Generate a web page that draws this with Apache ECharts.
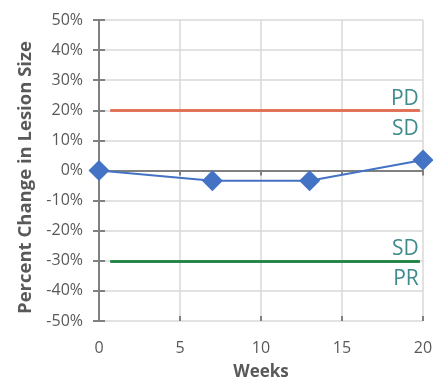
<!DOCTYPE html>
<html>
<head>
<meta charset="utf-8">
<script src="https://cdn.jsdelivr.net/npm/echarts@6/dist/echarts.min.js"></script>
<style>
  html, body { margin: 0; padding: 0; background: #ffffff; }
  #chart { width: 433px; height: 380px; }
</style>
</head>
<body>
<div id="chart"></div>
<script>
// Lesion size over time
const weeks = [0, 7, 13, 20];
const lesionChange = [0, -3.4, -3.4, 3.5];

// Response thresholds (RECIST-style)
const progressionLevel = 20;
const responseLevel = -30;
const thresholdSpan = [0.7, 19.8];
const progressionLabels = ['PD', 'SD'];
const responseLabels = ['SD', 'PR'];

const FONT = 'Open Sans';
const TEXT_GREY = '#595959';
const AXIS_GREY = '#808080';
const GRID_GREY = '#d9d9d9';
const ZONE_TEAL = '#3e8a8c';

function thresholdMarks(level, labels) {
  const from = { coord: [thresholdSpan[0], level] };
  const to = { coord: [thresholdSpan[1], level] };
  const lbl = (text, pos, pad) => ({
    show: true, formatter: text, position: pos, distance: 1, padding: pad,
    color: ZONE_TEAL, fontFamily: FONT, fontSize: 21
  });
  return [
    [Object.assign({}, from, { label: lbl(labels[0], 'insideEndTop', [0, 0, 0, 0]) }), to],
    [Object.assign({}, from, { label: lbl(labels[1], 'insideEndBottom', [7, 0, 0, 0]) }), to]
  ];
}

function thresholdSeries(name, level, labels, color) {
  return {
    name: name,
    type: 'line',
    data: [],
    silent: true,
    markLine: {
      silent: true,
      symbol: 'none',
      animation: false,
      lineStyle: { color: color, width: 2.5, type: 'solid' },
      emphasis: { disabled: true },
      data: thresholdMarks(level, labels)
    }
  };
}

const chart = echarts.init(document.getElementById('chart'), null, { renderer: 'canvas' });

chart.setOption({
  animation: false,
  textStyle: { fontFamily: FONT },
  grid: { left: 99, right: 10, top: 20, bottom: 59, outerBoundsMode: 'none', containLabel: false },
  xAxis: [
    {
      type: 'value', min: 0, max: 20, interval: 5,
      axisLine: { show: false },
      axisTick: { show: false },
      splitLine: { show: true, lineStyle: { color: GRID_GREY, width: 1.5 } },
      axisLabel: { color: TEXT_GREY, fontSize: 16, margin: 19, fontFamily: FONT },
      name: 'Weeks', nameLocation: 'middle', nameGap: 43,
      nameTextStyle: { color: TEXT_GREY, fontSize: 17, fontWeight: 'bold', fontFamily: FONT }
    },
    {
      type: 'value', min: 0, max: 20, interval: 5, position: 'bottom',
      axisLine: { show: true, onZero: true, lineStyle: { color: AXIS_GREY, width: 2 } },
      axisTick: { show: true, length: 5, lineStyle: { color: AXIS_GREY, width: 2 } },
      axisLabel: { show: false },
      splitLine: { show: false }
    },
    {
      type: 'value', min: 0, max: 20, interval: 5, position: 'bottom',
      axisLine: { show: false, onZero: true },
      axisTick: { show: true, inside: true, length: 5, lineStyle: { color: AXIS_GREY, width: 2 } },
      axisLabel: { show: false },
      splitLine: { show: false }
    }
  ],
  yAxis: [
    {
      type: 'value', min: -50, max: 50, interval: 10, position: 'left',
      axisLine: { show: true, lineStyle: { color: AXIS_GREY, width: 2 } },
      axisTick: { show: true, length: 6, lineStyle: { color: AXIS_GREY, width: 2 } },
      splitLine: { show: true, lineStyle: { color: GRID_GREY, width: 1.5 } },
      axisLabel: { color: TEXT_GREY, fontSize: 16, margin: 16, formatter: '{value}%', fontFamily: FONT },
      name: 'Percent Change in Lesion Size', nameLocation: 'middle', nameGap: 64,
      nameTextStyle: {
        color: TEXT_GREY, fontSize: 18.5, fontWeight: 'bold', fontFamily: FONT,
        padding: [0, 14, 0, 0]
      }
    },
    {
      type: 'value', min: -50, max: 50, interval: 10, position: 'left',
      axisLine: { show: false },
      axisTick: { show: true, inside: true, length: 6, lineStyle: { color: AXIS_GREY, width: 2 } },
      splitLine: { show: false },
      axisLabel: { show: false }
    }
  ],
  series: [
    thresholdSeries('Progression', progressionLevel, progressionLabels, '#e06e55'),
    thresholdSeries('Response', responseLevel, responseLabels, '#1f8444'),
    {
      name: 'Percent change',
      type: 'line',
      z: 5,
      data: weeks.map((w, i) => [w, lesionChange[i]]),
      symbol: 'diamond',
      symbolSize: 21,
      itemStyle: { color: '#4472c4' },
      lineStyle: { color: '#4472c4', width: 2 }
    }
  ]
});
</script>
</body>
</html>
